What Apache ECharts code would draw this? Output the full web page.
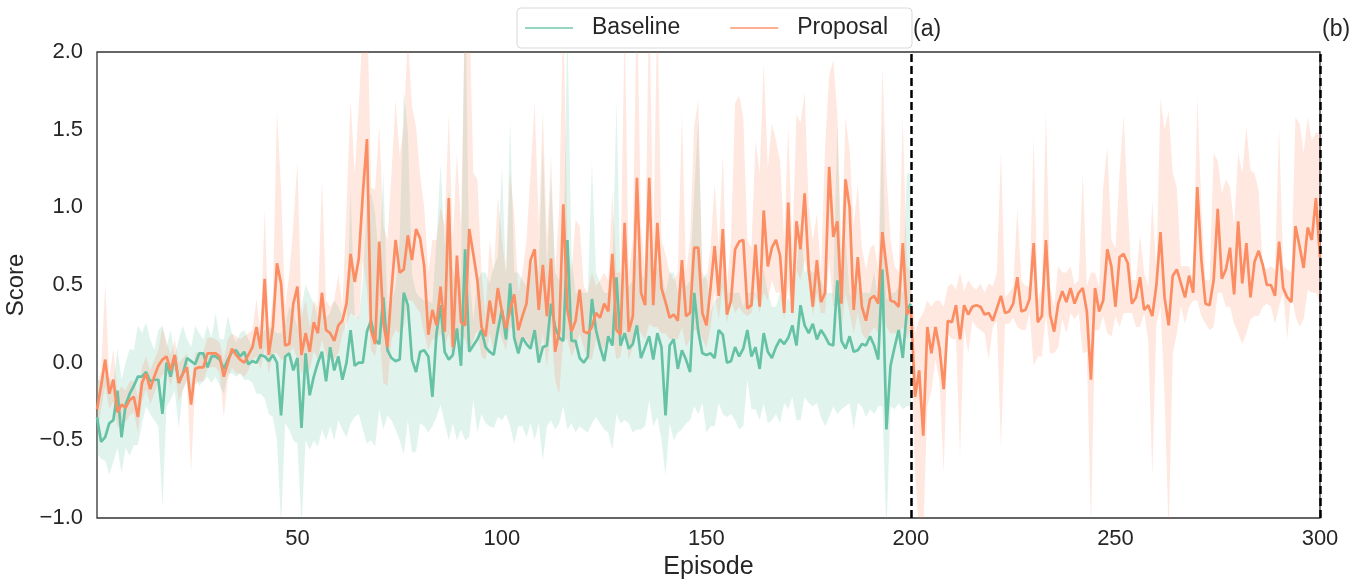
<!DOCTYPE html>
<html lang="en">
<head>
  <meta charset="UTF-8">
  <title>Score per episode</title>
</head>
<style>
  html, body { margin: 0; padding: 0; background: #fff; }
  #main { width: 1362px; height: 579px; }
</style>
<body>
  <div id="main"></div>
  <script src="https://cdn.jsdelivr.net/npm/echarts@6.0.0/dist/echarts.min.js"></script>
  <script type="text/javascript">
    // episodes run 1..300 (baseline stops at 200)
    const xTicks = [50, 100, 150, 200, 250, 300];
    const phaseLines = [200, 300];
    const phaseNames = ['(a)', '(b)'];

    // Baseline mean score, episodes 1-200
    const baseMean = [
      -0.35,-0.51,-0.48,-0.39,-0.37,-0.18,-0.48,-0.27,-0.2,-0.15,
      -0.09,-0.09,-0.06,-0.12,-0.11,-0.11,-0.33,0.0,-0.09,0.04,
      -0.13,-0.07,0.03,0.01,-0.01,0.06,0.06,-0.03,0.04,0.04,
      0.02,-0.04,0.02,0.07,0.08,0.04,0.07,-0.01,0.01,0,
      0.05,0.04,0.01,0.05,0,-0.34,0.04,0.06,-0.05,0.03,
      -0.42,0.06,-0.21,-0.09,0,0.07,-0.12,0.1,-0.05,0.04,
      -0.11,0,0.21,-0.02,0,0,0.2,0.27,0.15,0.12,
      0.42,0.08,0.03,0.01,0.02,0.45,0.37,0.02,-0.06,0.07,
      0.08,0.04,-0.22,0.19,0.37,0.07,0.02,0.05,0.22,-0.02,
      0.73,0.07,0.11,0.15,0.21,0.1,0.07,0.05,0.21,0.34,
      0.15,0.51,0.16,0.06,0.16,0.12,0.09,0.21,0,0.1,
      0.11,0.38,0.23,0.16,0.14,0.79,0.14,0.14,0.03,0,
      0.04,0.41,0.21,0.1,0.01,0.17,0.11,0.55,0.11,0.19,
      0.09,0.12,0.24,0.03,0.1,0.17,0.02,0.19,0.1,-0.34,
      0.11,0.15,-0.04,0.08,0.02,-0.06,0.45,0.2,0.06,0.05,
      0.06,0.03,0.21,0.18,0,0.01,0.1,0.04,0.09,0.21,
      0.04,0.1,-0.04,0.19,0.07,0.03,0.1,0.15,0.12,0.16,
      0.24,0.11,0.37,0.24,0.19,0.25,0.15,0.21,0.17,0.12,
      0.11,0.53,0.14,0.09,0.17,0.07,0.08,0.12,0.11,0.17,
      0.11,0.02,0.6,-0.43,-0.02,0.1,0.21,0.03,0.34,0.38
    ];
    const baseLow = [
      -0.58,-0.62,-0.63,-0.72,-0.64,-0.55,-0.71,-0.55,-0.6,-0.53,
      -0.53,-0.39,-0.28,-0.33,-0.37,-0.41,-0.93,-0.28,-0.24,-0.18,
      -0.42,-0.18,-0.11,-0.2,-0.09,-0.15,-0.12,-0.09,-0.13,-0.09,
      -0.15,-0.2,-0.07,-0.07,-0.09,-0.07,-0.11,-0.11,-0.13,-0.2,
      -0.2,-0.23,-0.33,-0.35,-0.5,-1.05,-0.39,-0.43,-0.5,-0.52,
      -1.05,-0.5,-0.56,-0.5,-0.54,-0.43,-0.5,-0.41,-0.5,-0.37,
      -0.43,-0.48,-0.39,-0.35,-0.33,-0.43,-0.52,-0.5,-0.54,-0.3,
      -0.43,-0.34,-0.37,-0.43,-0.5,-0.59,-0.37,-0.58,-0.57,-0.39,
      -0.41,-0.45,-0.41,-0.35,-0.27,-0.39,-0.5,-0.39,-0.5,-0.43,
      -0.5,-0.48,-0.24,-0.45,-0.33,-0.39,-0.41,-0.42,-0.35,-0.37,
      -0.33,-0.41,-0.52,-0.41,-0.41,-0.48,-0.39,-0.5,-0.39,-0.63,
      -0.41,-0.37,-0.43,-0.39,-0.28,-0.43,-0.39,-0.45,-0.41,-0.43,
      -0.45,-0.39,-0.35,-0.39,-0.43,-0.45,-0.56,-0.33,-0.39,-0.37,
      -0.39,-0.45,-0.43,-0.43,-0.41,-0.24,-0.41,-0.35,-0.5,-0.73,
      -0.39,-0.5,-0.45,-0.43,-0.39,-0.37,-0.28,-0.33,-0.26,-0.45,
      -0.41,-0.41,-0.26,-0.33,-0.35,-0.33,-0.37,-0.43,-0.41,-0.11,
      -0.3,-0.3,-0.37,-0.26,-0.39,-0.37,-0.33,-0.39,-0.26,-0.3,
      -0.22,-0.37,-0.37,-0.22,-0.26,-0.28,-0.26,-0.35,-0.41,-0.35,
      -0.28,-0.33,-0.3,-0.28,-0.26,-0.43,-0.26,-0.28,-0.35,-0.3,
      -0.33,-0.28,-0.28,-1.1,-0.28,-0.3,-0.26,-0.3,-0.28,-0.28
    ];
    const baseHigh = [
      -0.1,-0.12,-0.08,-0.1,-0.14,0.09,-0.11,0.0,0.09,0.08,
      0.24,0.19,0.26,0.15,0.08,0.21,0.24,0.1,0.21,0.04,
      0.15,0.24,0.15,0.1,0.24,0.19,0.15,0.24,0.16,0.32,
      0.15,0.15,0.3,0.19,0.13,0.19,0.21,0.15,0.1,0.17,
      0.16,0.21,0.23,0.21,0.19,0.19,0.25,0.36,0.32,0.23,
      0.36,0.5,0.44,0.38,0.29,0.38,0.29,0.32,0.4,0.36,
      0.3,0.21,1.11,0.29,0.29,0.53,1.05,1.09,0.96,0.62,
      1.22,0.34,0.38,0.49,0.79,1.75,1.48,0.57,0.45,0.42,
      0.4,0.4,0.38,0.79,1.28,0.75,1.11,0.6,0.49,0.55,
      2.5,0.58,0.27,0.53,0.58,0.58,0.51,0.62,0.68,1.26,
      0.55,1.56,0.58,0.58,0.53,0.49,0.58,0.7,0.58,1.39,
      0.58,1.18,0.58,0.53,0.58,2.2,0.68,0.45,0.45,0.45,
      0.45,1.29,0.58,0.51,0.45,0.45,0.58,1.68,0.49,0.58,
      0.49,0.53,0.7,0.58,0.53,0.75,0.53,0.62,0.58,0.45,
      0.58,0.58,0.45,0.58,0.49,0.53,1.09,1.56,0.53,0.58,
      0.32,0.4,0.42,0.58,0.45,0.45,0.45,0.45,0.36,0.45,
      0.45,0.45,0.42,0.6,0.45,0.36,0.36,0.45,0.36,0.42,
      0.36,0.6,0.88,0.58,0.6,0.58,0.58,0.53,0.45,0.45,
      0.45,1.54,0.49,0.79,0.45,0.4,0.49,0.45,0.45,0.45,
      0.58,0.4,1.54,0.4,0.45,0.45,0.49,0.45,1.22,1.22
    ];

    // Proposal mean score, episodes 1-300
    const propMean = [
      -0.3,-0.15,0.02,-0.2,-0.11,-0.32,-0.27,-0.29,-0.24,-0.22,
      -0.35,-0.13,-0.07,-0.17,-0.09,-0.02,0.02,0.04,-0.05,0.05,
      -0.13,-0.07,-0.03,-0.27,-0.04,-0.03,-0.03,0.06,0.06,0.06,
      0.04,-0.09,0,0.09,0.05,0.02,0,0.05,0.1,0.23,
      0.09,0.54,0.05,0.23,0.64,0.51,0.11,0.12,0.38,0.49,
      0.05,0.19,0.07,0.26,0.19,0.45,0.21,0.19,0.14,0.24,
      0.27,0.38,0.7,0.52,0.67,1.09,1.44,0.21,0.12,0.78,
      0.26,0.1,0.47,0.79,0.58,0.6,0.82,0.66,0.86,0.8,
      0.62,0.18,0.34,0.24,0.49,0.2,1.06,0.1,0.69,0.26,
      0.24,0.86,0.7,0.53,0.23,0.17,0.4,0.25,0.48,0.33,
      0.22,0.34,0.44,0.21,0.3,0.38,0.66,0.73,0.34,0.63,
      0.3,0.67,0.07,0.2,1.02,0.34,0.2,0.27,0.47,0.2,
      0.19,0.23,0.32,0.29,0.38,0.33,0.7,0.21,0.18,0.9,
      0.2,0.3,1.19,0.45,0.37,1.19,0.37,0.9,0.48,0.39,
      0.29,0.31,0.27,0.66,0.3,0.32,0.74,0.74,0.32,0.24,
      0.48,0.75,0.43,0.86,0.31,0.4,0.73,0.78,0.79,0.35,
      0.37,0.76,0.36,0.98,0.62,0.74,0.79,0.69,0.32,1.03,
      0.32,0.91,0.73,1.09,0.6,0.36,0.66,0.39,0.45,1.26,
      0.81,0.91,0.38,1.18,1.0,0.34,0.68,0.36,0.27,0.41,
      0.43,0.38,0.84,0.62,0.4,0.39,0.36,0.77,0.31,0.35,
      -0.22,-0.05,-0.47,0.23,0.06,0.23,0.09,-0.17,0.27,0.26,
      0.37,0.15,0.37,0.31,0.36,0.37,0.36,0.31,0.32,0.27,
      0.35,0.43,0.32,0.33,0.38,0.55,0.33,0.34,0.41,0.77,
      0.26,0.3,0.79,0.31,0.2,0.38,0.46,0.39,0.48,0.38,
      0.45,0.48,0.33,-0.11,0.48,0.33,0.4,0.73,0.62,0.36,
      0.68,0.7,0.64,0.38,0.42,0.55,0.34,0.37,0.3,0.5,
      0.84,0.42,0.24,0.56,0.6,0.51,0.42,0.56,0.45,1.13,
      0.66,0.38,0.37,0.53,0.99,0.54,0.6,0.74,0.44,0.91,
      0.51,0.77,0.42,0.65,0.72,0.63,0.5,0.5,0.43,0.78,
      0.48,0.42,0.39,0.88,0.75,0.61,0.87,0.79,1.06,0.68
    ];
    const propLow = [
      -0.45,-0.3,-0.15,-0.3,-0.25,-0.42,-0.38,-0.38,-0.34,-0.32,
      -0.45,-0.25,-0.17,-0.27,-0.2,-0.12,-0.08,-0.06,-0.15,-0.05,
      -0.25,-0.17,-0.12,-0.7,-0.14,-0.12,-0.12,-0.04,-0.03,-0.03,
      -0.07,-0.35,-0.11,-0.03,-0.07,-0.07,-0.09,-0.05,0.02,0.04,
      -0.04,0.1,-0.07,0.06,0.06,0.02,0.02,0.06,0.1,0.02,
      -0.07,0.02,-0.05,0.08,0.02,0.15,0.04,0.02,0.02,0.06,
      0.19,0.25,0.32,0.3,0.28,0.66,0.47,0.08,0.04,0.21,
      -0.13,-0.15,0.15,0.21,0.19,0.23,0.4,0.4,0.36,0.32,
      0.19,0.08,0.15,0.15,0.19,0.1,0.19,0.02,0.19,0.17,
      0.15,0.06,0.15,0.21,0.04,0.02,0.19,0.06,0.23,0.15,
      0.08,0.23,0.21,0.06,0.15,0.15,0.1,0.19,0.02,0.19,
      -0.03,0.23,-0.11,-0.2,0.15,0.15,0.04,0.1,0.19,0.1,
      0.02,0.02,0.15,0.06,0.1,0.15,0.19,0.02,0.04,0.23,
      0.02,0.1,0.23,0.19,0.15,0.25,0.23,0.23,0.19,0.19,
      0.15,0.15,0.15,0.23,0.1,0.15,0.21,0.21,0.15,0.1,
      0.23,0.45,0.28,0.49,0.25,0.4,0.32,0.36,0.32,0.3,
      0.32,0.45,0.32,0.45,0.4,0.53,0.45,0.45,0.28,0.49,
      0.3,0.6,0.53,0.66,0.53,0.3,0.45,0.32,0.32,0.66,
      0.36,0.38,0.21,0.45,0.32,0.19,0.32,0.19,0.15,0.19,
      0.23,0.19,0.32,0.23,0.19,0.19,0.19,0.23,0.15,0.21,
      -0.71,-1.1,-1.1,-0.28,-0.18,0.02,-0.13,-0.71,0.19,0.15,
      0.15,-0.6,0.23,0.06,0.27,0.23,0.21,0.19,0.02,0.23,
      0.27,-0.55,0.25,0.25,0.29,0.23,0.21,0.21,0.32,-0.02,
      0.04,0.04,0.32,0.06,0.06,0.1,0.28,0.19,0.32,0.28,
      0.32,0.06,0.07,-1.05,0.21,0.21,0.3,0.19,0.17,0.3,
      0.23,0.32,0.32,0.32,0.23,0.23,0.32,0.15,-0.73,0.25,
      0.36,-0.2,-1.1,0.06,0.19,0.36,0.25,0.36,0.4,0.4,
      0.3,0.25,0.21,0.23,0.45,0.45,0.36,0.36,0.25,0.19,
      0.12,0.19,0.28,0.3,0.3,0.36,0.38,0.36,0.25,0.36,
      0.45,0.15,0.45,0.3,0.23,0.28,0.47,0.45,0.45,0.38
    ];
    const propHigh = [
      -0.15,-0.05,0.51,-0.1,0.09,-0.2,-0.15,-0.18,-0.12,-0.12,
      -0.22,-0.03,0.04,-0.05,0.02,0.08,0.23,0.14,0.05,0.15,
      0.0,0.03,0.06,-0.15,0.06,0.07,0.07,0.16,0.16,0.15,
      0.13,0.02,0.15,0.19,0.17,0.15,0.17,0.19,0.21,0.41,
      0.19,0.99,0.19,0.42,1.62,1.11,0.36,0.57,0.88,1.3,
      0.29,0.4,0.23,0.4,0.36,1.18,0.4,0.36,0.4,0.57,
      0.36,1.0,1.69,1.22,1.65,2.2,2.4,1.13,1.11,1.53,
      0.88,0.79,1.22,1.69,1.33,1.52,2.1,1.65,1.52,1.2,
      1.0,0.58,0.79,0.79,1.0,0.88,1.6,0.79,1.35,0.88,
      2.3,2.3,1.22,1.18,0.58,0.3,0.79,0.58,1.07,0.79,
      0.58,1.22,0.96,0.45,0.58,0.79,1.22,1.68,0.88,1.62,
      0.79,1.33,0.58,1.0,2.3,0.79,0.58,0.92,0.88,0.49,
      0.45,0.58,0.49,0.53,0.58,0.53,1.09,0.58,0.58,2.2,
      0.58,0.79,2.4,0.88,0.58,2.4,0.79,2.3,0.79,0.7,
      0.58,0.53,0.58,1.6,0.58,0.79,1.52,1.69,0.58,0.53,
      0.74,1.15,0.74,1.34,0.49,0.79,1.67,1.72,1.58,0.79,
      0.74,1.43,1.22,1.93,1.25,1.54,1.43,1.3,0.79,1.52,
      0.74,1.6,1.54,1.74,1.0,0.79,0.96,0.58,1.39,1.85,
      1.95,1.6,0.74,1.58,1.37,0.88,1.15,0.74,0.6,0.74,
      0.76,0.6,1.9,1.22,0.79,0.62,0.58,1.58,0.62,0.58,
      0.19,0.28,0.32,0.4,0.36,0.4,0.4,0.36,0.49,0.51,
      0.47,0.58,0.46,0.53,0.49,0.47,0.51,0.45,0.51,0.49,
      0.58,1.36,0.42,0.45,0.49,0.99,0.53,0.49,0.49,1.45,
      0.4,0.49,1.62,0.49,0.36,0.62,0.58,0.58,0.62,0.5,
      0.53,1.22,0.49,0.58,0.58,0.49,1.13,1.39,0.79,0.74,
      1.22,1.59,1.0,0.53,0.53,0.82,0.58,0.49,1.04,0.58,
      1.7,1.5,1.62,1.22,1.13,0.62,0.62,0.62,0.53,1.71,
      1.0,0.53,0.53,1.35,1.3,1.09,1.18,1.13,0.88,1.35,
      1.22,1.52,1.24,1.22,1.11,0.62,0.6,0.62,0.6,1.51,
      0.62,0.6,0.58,1.58,1.54,1.35,1.58,1.43,1.48,1.48
    ];

    const green = '#66c2a5', orange = '#fc8d62';
    const font = '"Liberation Sans", Arial, sans-serif';

    const pairs = vals => vals.map((v, i) => [i + 1, v]);

    // shaded spread: one polygon through the upper values and back along the lower ones
    function bandSeries(name, lo, hi, color) {
      const rows = lo.map((v, i) => [i + 1, v, hi[i]]);
      return {
        name: name, type: 'custom', silent: true, clip: true, z: 1,
        data: rows,
        encode: { x: 0, y: [1, 2] },
        renderItem: function (params, api) {
          if (params.dataIndex !== 0) return;
          const top = rows.map(r => api.coord([r[0], r[2]]));
          const bottom = rows.map(r => api.coord([r[0], r[1]])).reverse();
          return {
            type: 'polygon',
            shape: { points: top.concat(bottom) },
            style: { fill: color }
          };
        }
      };
    }

    const fmt = v => (v < 0 ? '\u2212' : '') + Math.abs(v).toFixed(1);

    const myChart = echarts.init(document.getElementById('main'));

    const option = {
      animation: false,
      textStyle: { fontFamily: font },
      grid: {
        left: 97, right: 42, top: 52, bottom: 61,
        outerBoundsMode: 'none', containLabel: false,
        show: true, borderColor: '#333', borderWidth: 1.3, backgroundColor: '#fff'
      },
      legend: {
        data: ['Baseline', 'Proposal'],
        left: 517, top: 8,
        padding: [8, 24, 8, 8],
        itemGap: 50, itemWidth: 48, itemHeight: 2,
        icon: 'rect',
        backgroundColor: '#fff', borderColor: '#d9d9d9', borderWidth: 1, borderRadius: 4,
        itemStyle: { opacity: 0.7 },
        textStyle: { fontSize: 23, color: '#262626', fontFamily: font, padding: [0, 0, 0, 14], lineHeight: 24 }
      },
      xAxis: {
        type: 'value', min: 1, max: 300,
        name: 'Episode', nameLocation: 'middle', nameGap: 37,
        nameTextStyle: { fontSize: 25, color: '#262626', fontFamily: font },
        axisLine: { show: false },
        axisTick: { show: false, customValues: xTicks },
        splitLine: { show: false },
        axisLabel: { customValues: xTicks, fontSize: 22, color: '#262626', margin: 10, fontFamily: font }
      },
      yAxis: {
        type: 'value', min: -1, max: 2, interval: 0.5,
        name: 'Score', nameLocation: 'middle', nameGap: 65,
        nameTextStyle: { fontSize: 24, color: '#262626', fontFamily: font },
        axisLine: { show: false },
        axisTick: { show: false },
        splitLine: { show: false },
        axisLabel: { formatter: fmt, fontSize: 22, color: '#262626', margin: 14, fontFamily: font }
      },
      series: [
        bandSeries('Baseline band', baseLow, baseHigh, 'rgba(102,194,165,0.2)'),
        bandSeries('Proposal band', propLow, propHigh, 'rgba(252,141,98,0.2)'),
        {
          name: 'Baseline', type: 'line', data: pairs(baseMean),
          symbol: 'none', color: green, lineStyle: { width: 2.7, color: green }, z: 3
        },
        {
          name: 'Proposal', type: 'line', data: pairs(propMean),
          symbol: 'none', color: orange, lineStyle: { width: 2.7, color: orange }, z: 4,
          markLine: {
            silent: true, symbol: 'none', animation: false,
            label: { show: false },
            lineStyle: { color: '#000', width: 2.5, type: [8, 4] },
            data: phaseLines.map(v => ({ xAxis: v }))
          }
        }
      ]
    };
    myChart.setOption(option);

    // (a)/(b) tags just right of the phase lines, above the frame
    myChart.setOption({
      graphic: phaseLines.map((v, i) => ({
        type: 'text',
        left: myChart.convertToPixel({ xAxisIndex: 0 }, v) + 2,
        top: 18,
        style: { text: phaseNames[i], fontSize: 23, fill: '#262626', fontFamily: font }
      }))
    });
  </script>
</body>
</html>
